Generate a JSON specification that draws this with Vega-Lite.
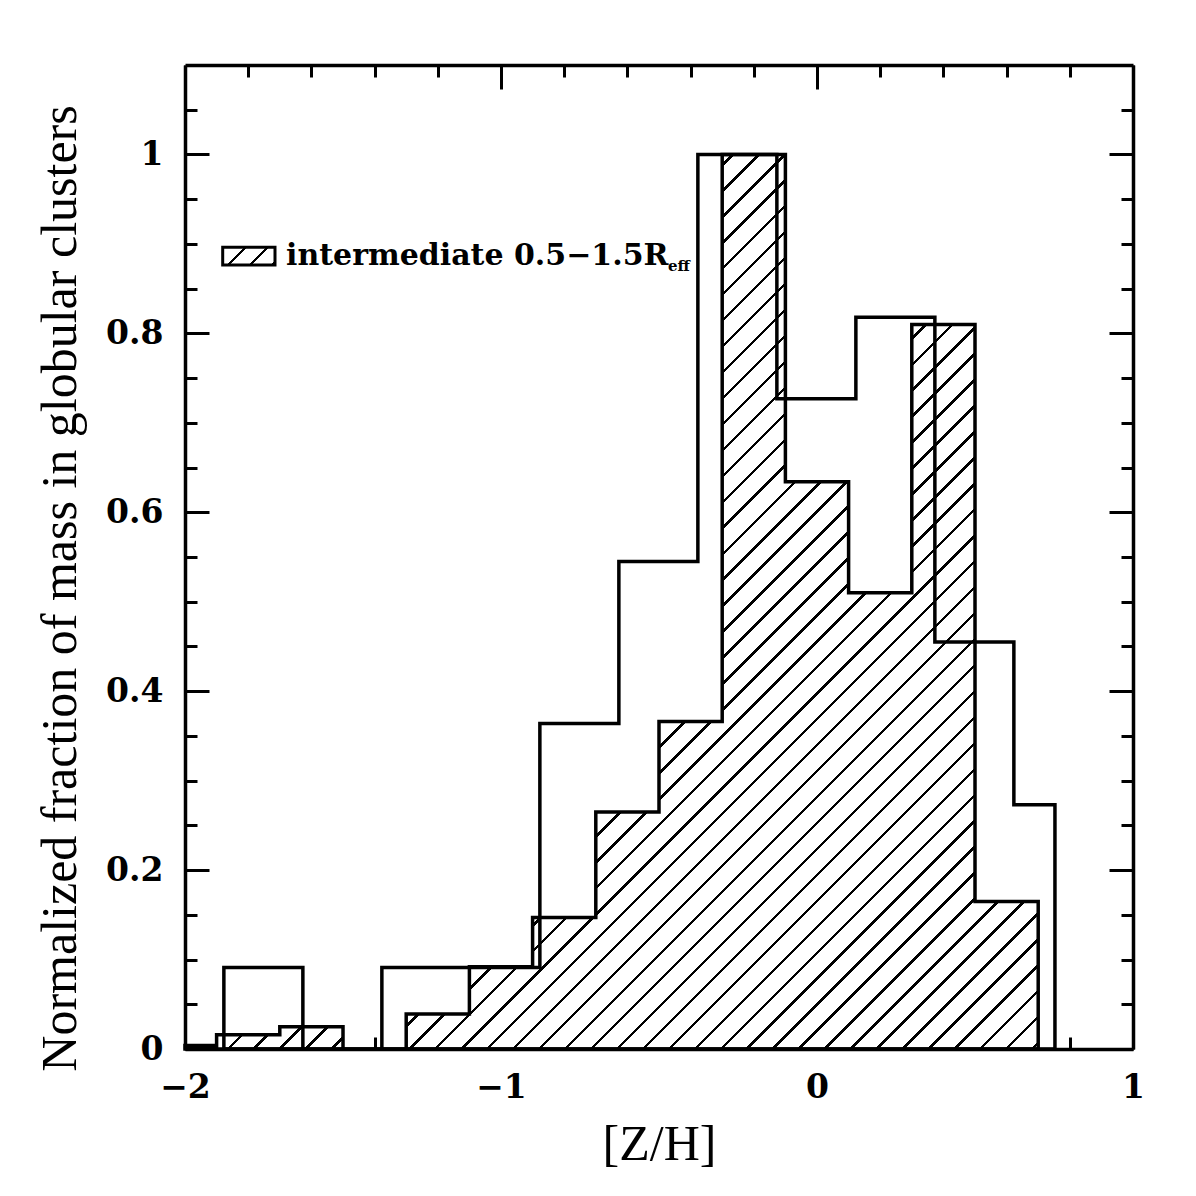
{
  "$schema": "https://vega.github.io/schema/vega-lite/v6.json",
  "width": 948,
  "height": 984,
  "autosize": "none",
  "padding": {"left": 185, "top": 65, "right": 63, "bottom": 147},
  "background": "white",
  "config": {
    "view": {"stroke": null},
    "axis": {
      "domainColor": "black",
      "domainWidth": 3.5,
      "tickColor": "black",
      "tickWidth": 3,
      "grid": false,
      "zindex": 1,
      "labelFont": "DejaVu Serif",
      "labelFontWeight": "bold",
      "labelFontSize": 33,
      "labelColor": "black",
      "labelOverlap": false,
      "labelFlush": false,
      "titleFont": "Liberation Serif",
      "titleFontWeight": "normal",
      "titleFontSize": 50,
      "titleColor": "black"
    }
  },
  "datasets": {
    "intermediate": [
      {"z": -2.0, "frac": 0.004},
      {"z": -1.9, "frac": 0.016},
      {"z": -1.7, "frac": 0.025},
      {"z": -1.5, "frac": 0},
      {"z": -1.3, "frac": 0.039},
      {"z": -1.1, "frac": 0.092},
      {"z": -0.9, "frac": 0.147},
      {"z": -0.7, "frac": 0.265},
      {"z": -0.5, "frac": 0.366},
      {"z": -0.3, "frac": 1.0},
      {"z": -0.1, "frac": 0.634},
      {"z": 0.1, "frac": 0.51},
      {"z": 0.3, "frac": 0.81},
      {"z": 0.5, "frac": 0.165},
      {"z": 0.7, "frac": 0.165}
    ],
    "all": [
      {"z": -1.877, "frac": 0.091},
      {"z": -1.627, "frac": 0},
      {"z": -1.377, "frac": 0.091},
      {"z": -1.127, "frac": 0.091},
      {"z": -0.877, "frac": 0.364},
      {"z": -0.627, "frac": 0.545},
      {"z": -0.377, "frac": 1.0},
      {"z": -0.127, "frac": 0.727},
      {"z": 0.123, "frac": 0.818},
      {"z": 0.373, "frac": 0.455},
      {"z": 0.623, "frac": 0.273},
      {"z": 0.753, "frac": 0.273}
    ],
    "legend": [
      {"label": "intermediate 0.5−1.5R", "sub": "eff"}
    ]
  },
  "layer": [
    {
      "data": {"name": "intermediate"},
      "mark": {
        "type": "area",
        "interpolate": "step-after",
        "stroke": "black",
        "strokeWidth": 3.5,
        "fill": {
          "gradient": "linear",
          "x1": 0, "y1": 0, "x2": 0.9758, "y2": 1.02308,
          "stops": [
            {"offset": 0, "color": "#fff"},
            {"offset": 0.3125, "color": "#fff"}, {"offset": 0.3125, "color": "#000"}, {"offset": 0.3145, "color": "#000"}, {"offset": 0.3145, "color": "#fff"},
            {"offset": 0.3274, "color": "#fff"}, {"offset": 0.3274, "color": "#000"}, {"offset": 0.3294, "color": "#000"}, {"offset": 0.3294, "color": "#fff"},
            {"offset": 0.3422, "color": "#fff"}, {"offset": 0.3422, "color": "#000"}, {"offset": 0.3442, "color": "#000"}, {"offset": 0.3442, "color": "#fff"},
            {"offset": 0.3571, "color": "#fff"}, {"offset": 0.3571, "color": "#000"}, {"offset": 0.3591, "color": "#000"}, {"offset": 0.3591, "color": "#fff"},
            {"offset": 0.3719, "color": "#fff"}, {"offset": 0.3719, "color": "#000"}, {"offset": 0.3739, "color": "#000"}, {"offset": 0.3739, "color": "#fff"},
            {"offset": 0.3868, "color": "#fff"}, {"offset": 0.3868, "color": "#000"}, {"offset": 0.3888, "color": "#000"}, {"offset": 0.3888, "color": "#fff"},
            {"offset": 0.4016, "color": "#fff"}, {"offset": 0.4016, "color": "#000"}, {"offset": 0.4036, "color": "#000"}, {"offset": 0.4036, "color": "#fff"},
            {"offset": 0.4165, "color": "#fff"}, {"offset": 0.4165, "color": "#000"}, {"offset": 0.4185, "color": "#000"}, {"offset": 0.4185, "color": "#fff"},
            {"offset": 0.4313, "color": "#fff"}, {"offset": 0.4313, "color": "#000"}, {"offset": 0.4333, "color": "#000"}, {"offset": 0.4333, "color": "#fff"},
            {"offset": 0.4462, "color": "#fff"}, {"offset": 0.4462, "color": "#000"}, {"offset": 0.4482, "color": "#000"}, {"offset": 0.4482, "color": "#fff"},
            {"offset": 0.4610, "color": "#fff"}, {"offset": 0.4610, "color": "#000"}, {"offset": 0.4630, "color": "#000"}, {"offset": 0.4630, "color": "#fff"},
            {"offset": 0.4759, "color": "#fff"}, {"offset": 0.4759, "color": "#000"}, {"offset": 0.4779, "color": "#000"}, {"offset": 0.4779, "color": "#fff"},
            {"offset": 0.4907, "color": "#fff"}, {"offset": 0.4907, "color": "#000"}, {"offset": 0.4927, "color": "#000"}, {"offset": 0.4927, "color": "#fff"},
            {"offset": 0.5056, "color": "#fff"}, {"offset": 0.5056, "color": "#000"}, {"offset": 0.5076, "color": "#000"}, {"offset": 0.5076, "color": "#fff"},
            {"offset": 0.5204, "color": "#fff"}, {"offset": 0.5204, "color": "#000"}, {"offset": 0.5224, "color": "#000"}, {"offset": 0.5224, "color": "#fff"},
            {"offset": 0.5353, "color": "#fff"}, {"offset": 0.5353, "color": "#000"}, {"offset": 0.5373, "color": "#000"}, {"offset": 0.5373, "color": "#fff"},
            {"offset": 0.5501, "color": "#fff"}, {"offset": 0.5501, "color": "#000"}, {"offset": 0.5521, "color": "#000"}, {"offset": 0.5521, "color": "#fff"},
            {"offset": 0.5650, "color": "#fff"}, {"offset": 0.5650, "color": "#000"}, {"offset": 0.5670, "color": "#000"}, {"offset": 0.5670, "color": "#fff"},
            {"offset": 0.5798, "color": "#fff"}, {"offset": 0.5798, "color": "#000"}, {"offset": 0.5818, "color": "#000"}, {"offset": 0.5818, "color": "#fff"},
            {"offset": 0.5947, "color": "#fff"}, {"offset": 0.5947, "color": "#000"}, {"offset": 0.5967, "color": "#000"}, {"offset": 0.5967, "color": "#fff"},
            {"offset": 0.6095, "color": "#fff"}, {"offset": 0.6095, "color": "#000"}, {"offset": 0.6115, "color": "#000"}, {"offset": 0.6115, "color": "#fff"},
            {"offset": 0.6243, "color": "#fff"}, {"offset": 0.6243, "color": "#000"}, {"offset": 0.6263, "color": "#000"}, {"offset": 0.6263, "color": "#fff"},
            {"offset": 0.6392, "color": "#fff"}, {"offset": 0.6392, "color": "#000"}, {"offset": 0.6412, "color": "#000"}, {"offset": 0.6412, "color": "#fff"},
            {"offset": 0.6540, "color": "#fff"}, {"offset": 0.6540, "color": "#000"}, {"offset": 0.6560, "color": "#000"}, {"offset": 0.6560, "color": "#fff"},
            {"offset": 0.6689, "color": "#fff"}, {"offset": 0.6689, "color": "#000"}, {"offset": 0.6709, "color": "#000"}, {"offset": 0.6709, "color": "#fff"},
            {"offset": 0.6837, "color": "#fff"}, {"offset": 0.6837, "color": "#000"}, {"offset": 0.6857, "color": "#000"}, {"offset": 0.6857, "color": "#fff"},
            {"offset": 0.6986, "color": "#fff"}, {"offset": 0.6986, "color": "#000"}, {"offset": 0.7006, "color": "#000"}, {"offset": 0.7006, "color": "#fff"},
            {"offset": 0.7134, "color": "#fff"}, {"offset": 0.7134, "color": "#000"}, {"offset": 0.7154, "color": "#000"}, {"offset": 0.7154, "color": "#fff"},
            {"offset": 0.7283, "color": "#fff"}, {"offset": 0.7283, "color": "#000"}, {"offset": 0.7303, "color": "#000"}, {"offset": 0.7303, "color": "#fff"},
            {"offset": 0.7431, "color": "#fff"}, {"offset": 0.7431, "color": "#000"}, {"offset": 0.7451, "color": "#000"}, {"offset": 0.7451, "color": "#fff"},
            {"offset": 0.7580, "color": "#fff"}, {"offset": 0.7580, "color": "#000"}, {"offset": 0.7600, "color": "#000"}, {"offset": 0.7600, "color": "#fff"},
            {"offset": 0.7728, "color": "#fff"}, {"offset": 0.7728, "color": "#000"}, {"offset": 0.7748, "color": "#000"}, {"offset": 0.7748, "color": "#fff"},
            {"offset": 0.7877, "color": "#fff"}, {"offset": 0.7877, "color": "#000"}, {"offset": 0.7897, "color": "#000"}, {"offset": 0.7897, "color": "#fff"},
            {"offset": 0.8025, "color": "#fff"}, {"offset": 0.8025, "color": "#000"}, {"offset": 0.8045, "color": "#000"}, {"offset": 0.8045, "color": "#fff"},
            {"offset": 0.8174, "color": "#fff"}, {"offset": 0.8174, "color": "#000"}, {"offset": 0.8194, "color": "#000"}, {"offset": 0.8194, "color": "#fff"},
            {"offset": 0.8322, "color": "#fff"}, {"offset": 0.8322, "color": "#000"}, {"offset": 0.8342, "color": "#000"}, {"offset": 0.8342, "color": "#fff"},
            {"offset": 0.8471, "color": "#fff"}, {"offset": 0.8471, "color": "#000"}, {"offset": 0.8491, "color": "#000"}, {"offset": 0.8491, "color": "#fff"},
            {"offset": 0.8619, "color": "#fff"}, {"offset": 0.8619, "color": "#000"}, {"offset": 0.8639, "color": "#000"}, {"offset": 0.8639, "color": "#fff"},
            {"offset": 0.8768, "color": "#fff"}, {"offset": 0.8768, "color": "#000"}, {"offset": 0.8788, "color": "#000"}, {"offset": 0.8788, "color": "#fff"},
            {"offset": 0.8916, "color": "#fff"}, {"offset": 0.8916, "color": "#000"}, {"offset": 0.8936, "color": "#000"}, {"offset": 0.8936, "color": "#fff"},
            {"offset": 0.9065, "color": "#fff"}, {"offset": 0.9065, "color": "#000"}, {"offset": 0.9085, "color": "#000"}, {"offset": 0.9085, "color": "#fff"},
            {"offset": 0.9213, "color": "#fff"}, {"offset": 0.9213, "color": "#000"}, {"offset": 0.9233, "color": "#000"}, {"offset": 0.9233, "color": "#fff"},
            {"offset": 0.9362, "color": "#fff"}, {"offset": 0.9362, "color": "#000"}, {"offset": 0.9382, "color": "#000"}, {"offset": 0.9382, "color": "#fff"},
            {"offset": 0.9510, "color": "#fff"}, {"offset": 0.9510, "color": "#000"}, {"offset": 0.9530, "color": "#000"}, {"offset": 0.9530, "color": "#fff"},
            {"offset": 0.9658, "color": "#fff"}, {"offset": 0.9658, "color": "#000"}, {"offset": 0.9678, "color": "#000"}, {"offset": 0.9678, "color": "#fff"},
            {"offset": 0.9807, "color": "#fff"}, {"offset": 0.9807, "color": "#000"}, {"offset": 0.9827, "color": "#000"}, {"offset": 0.9827, "color": "#fff"},
            {"offset": 0.9955, "color": "#fff"}, {"offset": 0.9955, "color": "#000"}, {"offset": 0.9975, "color": "#000"}, {"offset": 0.9975, "color": "#fff"},
            {"offset": 1, "color": "#fff"}
          ]
        }
      },
      "encoding": {
        "x": {
          "field": "z",
          "type": "quantitative",
          "scale": {"domain": [-2, 1], "nice": false, "zero": false},
          "axis": {
            "orient": "bottom",
            "title": "[Z/H]",
            "values": [-2, -1.8, -1.6, -1.4, -1.2, -1, -0.8, -0.6, -0.4, -0.2, 0, 0.2, 0.4, 0.6, 0.8, 1],
            "tickSize": {"condition": {"test": "abs(datum.value - round(datum.value)) < 0.001", "value": -24}, "value": -12},
            "format": "~g",
            "labelExpr": "abs(datum.value - round(datum.value)) < 0.001 ? datum.label : ''",
            "labelPadding": 46,
            "titlePadding": 3
          }
        },
        "y": {
          "field": "frac",
          "type": "quantitative",
          "scale": {"domain": [0, 1.1], "nice": false},
          "axis": {
            "orient": "left",
            "title": "Normalized fraction of mass in globular clusters",
            "titleY": 523,
            "values": [0, 0.05, 0.1, 0.15, 0.2, 0.25, 0.3, 0.35, 0.4, 0.45, 0.5, 0.55, 0.6, 0.65, 0.7, 0.75, 0.8, 0.85, 0.9, 0.95, 1, 1.05],
            "tickSize": {"condition": {"test": "abs(datum.value * 5 - round(datum.value * 5)) < 0.001", "value": -24}, "value": -12},
            "format": "~g",
            "labelExpr": "abs(datum.value * 5 - round(datum.value * 5)) < 0.001 ? datum.label : ''",
            "labelPadding": 46,
            "titlePadding": 20
          }
        }
      }
    },
    {
      "data": {"name": "all"},
      "mark": {"type": "area", "interpolate": "step-after", "fill": null, "fillOpacity": 0, "stroke": "black", "strokeWidth": 3.5},
      "encoding": {
        "x": {
          "field": "z",
          "type": "quantitative",
          "axis": {
            "orient": "top",
            "title": null,
            "labels": false,
            "values": [-2, -1.8, -1.6, -1.4, -1.2, -1, -0.8, -0.6, -0.4, -0.2, 0, 0.2, 0.4, 0.6, 0.8, 1],
            "tickSize": {"condition": {"test": "abs(datum.value - round(datum.value)) < 0.001", "value": -24}, "value": -12}
          }
        },
        "y": {
          "field": "frac",
          "type": "quantitative",
          "axis": {
            "orient": "right",
            "title": null,
            "labels": false,
            "values": [0, 0.05, 0.1, 0.15, 0.2, 0.25, 0.3, 0.35, 0.4, 0.45, 0.5, 0.55, 0.6, 0.65, 0.7, 0.75, 0.8, 0.85, 0.9, 0.95, 1, 1.05],
            "tickSize": {"condition": {"test": "abs(datum.value * 5 - round(datum.value * 5)) < 0.001", "value": -24}, "value": -12}
          }
        }
      }
    },
    {
      "data": {"name": "legend"},
      "mark": {
        "type": "rect",
        "stroke": "black",
        "strokeWidth": 3,
        "fill": {
          "gradient": "linear",
          "x1": 0, "y1": 0, "x2": 1.20088, "y2": 0.40639,
          "stops": [
            {"offset": 0, "color": "#fff"},
            {"offset": 0.312, "color": "#fff"}, {"offset": 0.312, "color": "#000"}, {"offset": 0.354, "color": "#000"}, {"offset": 0.354, "color": "#fff"},
            {"offset": 0.622, "color": "#fff"}, {"offset": 0.622, "color": "#000"}, {"offset": 0.664, "color": "#000"}, {"offset": 0.664, "color": "#fff"},
            {"offset": 0.932, "color": "#fff"}, {"offset": 0.932, "color": "#000"}, {"offset": 0.974, "color": "#000"}, {"offset": 0.974, "color": "#fff"},
            {"offset": 1, "color": "#fff"}
          ]
        }
      },
      "encoding": {
        "x": {"datum": -1.8807, "type": "quantitative", "axis": null},
        "x2": {"datum": -1.7152},
        "y": {"datum": 0.8962, "type": "quantitative", "axis": null},
        "y2": {"datum": 0.8764}
      }
    },
    {
      "data": {"name": "legend"},
      "mark": {"type": "text", "font": "DejaVu Serif", "fontWeight": "bold", "fontSize": 30, "align": "left", "baseline": "alphabetic", "color": "black"},
      "encoding": {
        "x": {"datum": -1.6804, "type": "quantitative", "axis": null},
        "y": {"datum": 0.8764, "type": "quantitative", "axis": null},
        "text": {"field": "label"}
      }
    },
    {
      "data": {"name": "legend"},
      "mark": {"type": "text", "font": "DejaVu Serif", "fontWeight": "bold", "fontSize": 15, "align": "left", "baseline": "alphabetic", "color": "black"},
      "encoding": {
        "x": {"datum": -0.4715, "type": "quantitative", "axis": null},
        "y": {"datum": 0.8697, "type": "quantitative", "axis": null},
        "text": {"field": "sub"}
      }
    }
  ],
  "resolve": {"axis": {"x": "independent", "y": "independent"}}
}
